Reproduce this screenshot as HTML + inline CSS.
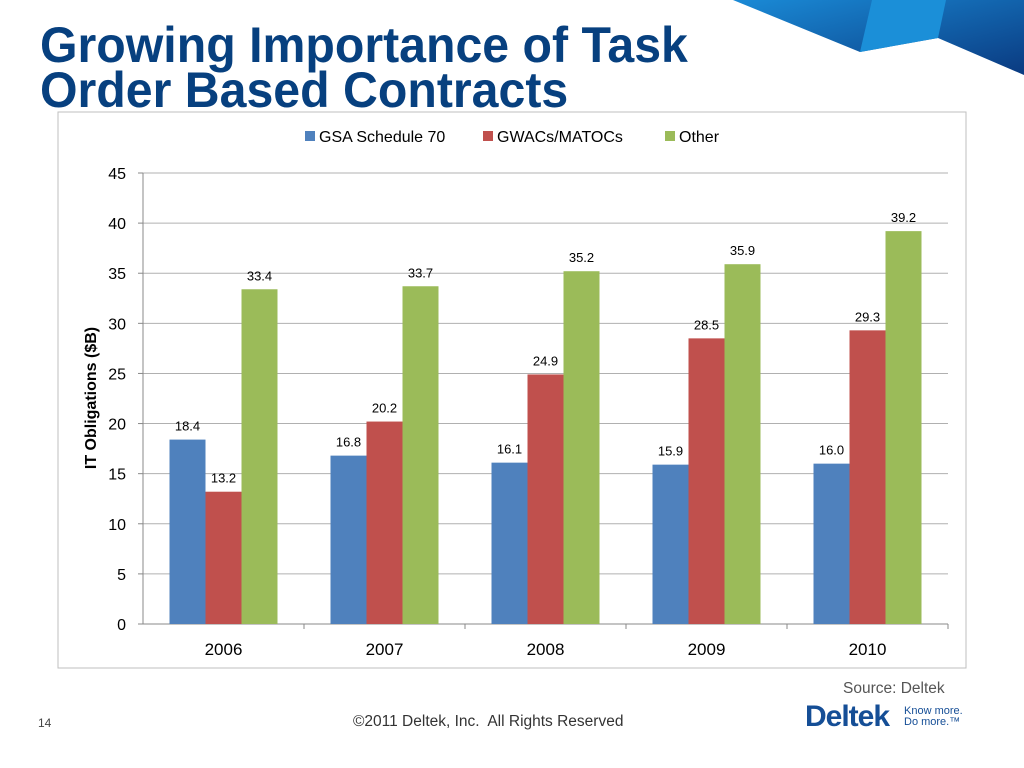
<!DOCTYPE html>
<html><head><meta charset="utf-8"><style>
body{margin:0;width:1024px;height:768px;background:#fff;position:relative;overflow:hidden;font-family:"Liberation Sans",sans-serif}
.t{position:absolute;left:40px;top:23px;font-size:50px;font-weight:bold;color:#07407f;line-height:45px;transform:scaleX(0.965);transform-origin:0 0;white-space:nowrap}
</style></head><body>
<svg style="position:absolute;left:0;top:0" width="1024" height="100">
<defs><linearGradient id="g1" x1="0" y1="0" x2="1" y2="1"><stop offset="0" stop-color="#1a8ad6"/><stop offset="1" stop-color="#0a3a80"/></linearGradient></defs>
<polygon points="733,0 1024,0 1024,75 938,38 860,52" fill="url(#g1)"/>
<polygon points="872,0 946,0 938,38 860,52" fill="#1b8fd8"/>
</svg>
<div class="t">Growing Importance of Task<br>Order Based Contracts</div>
<svg id="c" style="position:absolute;left:0;top:0" width="1024" height="768" font-family="Liberation Sans, sans-serif"></svg>
<div style="position:absolute;left:843px;top:680px;font-size:15.5px;color:#555">Source: Deltek</div>
<div style="position:absolute;left:38px;top:716px;font-size:12px;color:#444">14</div>
<div style="position:absolute;left:353px;top:713px;font-size:15.5px;color:#333">©2011 Deltek, Inc.&nbsp; All Rights Reserved</div>
<div style="position:absolute;left:805px;top:700px;font-size:30px;font-weight:bold;color:#154e96;letter-spacing:-1px">Deltek</div>
<div style="position:absolute;left:904px;top:706px;font-size:11px;line-height:11px;color:#154e96">Know more.<br>Do more.™</div>
<script>
const categories=["2006","2007","2008","2009","2010"];
const seriesNames=["GSA Schedule 70","GWACs/MATOCs","Other"];
const gsa=[18.4,16.8,16.1,15.9,16.0];
const gwac=[13.2,20.2,24.9,28.5,29.3];
const other=[33.4,33.7,35.2,35.9,39.2];
const yTicks=[0,5,10,15,20,25,30,35,40,45];
const colors=["#4f81bd","#c0504d","#9bbb59"];
const svg=document.getElementById('c');const NS="http://www.w3.org/2000/svg";
function mk(t,a,txt){const e=document.createElementNS(NS,t);for(const k in a)e.setAttribute(k,a[k]);if(txt!==undefined)e.textContent=txt;svg.appendChild(e);return e;}
const x0=143,x1=948,yB=624,yT=173;
const y=v=>yB-(v/45)*(yB-yT);
const gw=(x1-x0)/categories.length;
const xc=i=>x0+gw*(i+0.5);
let e=mk('rect',{x:58,y:112,width:908,height:556,fill:'#fff',stroke:'#bfbfbf'});

yTicks.forEach(t=>{
 if(t>0){e=mk('line',{x1:x0,x2:x1,y1:y(t),y2:y(t),stroke:'#b0b0b0'});}
 e=mk('line',{x1:x0-5,x2:x0,y1:y(t),y2:y(t),stroke:'#888'});
 e=mk('text',{x:x0-17,y:y(t)+6,'text-anchor':'end','font-size':16,fill:'#000'},t);
});
e=mk('line',{x1:x0,x2:x0,y1:yT,y2:yB,stroke:'#888'});
e=mk('line',{x1:x0,x2:x1,y1:yB,y2:yB,stroke:'#888'});
e=mk('text',{x:0,y:0,transform:'translate(96,398) rotate(-90)','text-anchor':'middle','font-size':16,'font-weight':'bold'},'IT Obligations ($B)');

const series=[gsa,gwac,other];const bw=36;
categories.forEach((c,i)=>{
 e=mk('line',{x1:x0+gw*(i+1),x2:x0+gw*(i+1),y1:yB,y2:yB+5,stroke:'#888'});
 e=mk('text',{x:xc(i),y:yB+31,'text-anchor':'middle','font-size':17},c);
 series.forEach((s,j)=>{
  const bx=xc(i)-1.5*bw+j*bw;
  e=mk('rect',{x:bx,y:y(s[i]),width:bw,height:yB-y(s[i]),fill:colors[j]});
  
  e=mk('text',{x:bx+bw/2,y:y(s[i])-9,'text-anchor':'middle','font-size':13},s[i].toFixed(1));
  
 });
});
const lx=[305,483,665];
seriesNames.forEach((n,j)=>{
 e=mk('rect',{x:lx[j],y:131,width:10,height:10,fill:colors[j]});
 e=mk('text',{x:lx[j]+14,y:142,'font-size':16},n);
});
</script>
</body></html>
